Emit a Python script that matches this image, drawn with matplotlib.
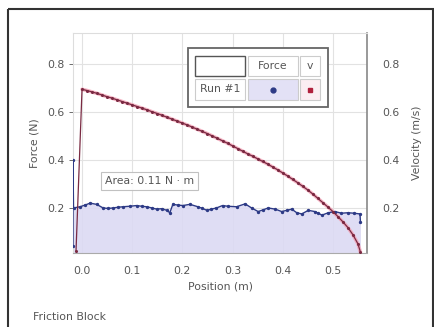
import matplotlib
matplotlib.use("Agg")
import matplotlib.pyplot as plt
from matplotlib.patches import Rectangle

# ---- data ----
force_x = [-0.018, -0.018, -0.017, -0.004, 0.006, 0.016, 0.029, 0.042, 0.052, 0.062, 0.072,
           0.082, 0.095, 0.109, 0.119, 0.129, 0.139, 0.149, 0.159, 0.169, 0.175, 0.181,
           0.191, 0.201, 0.215, 0.231, 0.24, 0.249, 0.258, 0.268, 0.28, 0.291, 0.308,
           0.325, 0.338, 0.351, 0.361, 0.371, 0.385, 0.398, 0.408, 0.418, 0.428, 0.438,
           0.451, 0.464, 0.471, 0.478, 0.491, 0.504, 0.517, 0.530, 0.542, 0.554, 0.555]
force_y = [0.04, 0.40, 0.20, 0.205, 0.212, 0.22, 0.215, 0.20, 0.198, 0.20, 0.203,
           0.205, 0.207, 0.21, 0.207, 0.205, 0.2, 0.195, 0.197, 0.19, 0.18, 0.215,
           0.212, 0.21, 0.215, 0.205, 0.198, 0.19, 0.195, 0.20, 0.21, 0.207, 0.205,
           0.217, 0.2, 0.185, 0.192, 0.20, 0.195, 0.185, 0.19, 0.195, 0.18, 0.175,
           0.19, 0.185, 0.178, 0.17, 0.18, 0.185, 0.178, 0.18, 0.178, 0.175, 0.14]

vel_x = [-0.012, 0.0, 0.01, 0.02, 0.03, 0.04, 0.05, 0.06, 0.07, 0.08, 0.09, 0.10,
         0.11, 0.12, 0.13, 0.14, 0.15, 0.16, 0.17, 0.18, 0.19, 0.20, 0.21, 0.22,
         0.23, 0.24, 0.25, 0.26, 0.27, 0.28, 0.29, 0.30, 0.31, 0.32, 0.33, 0.34,
         0.35, 0.36, 0.37, 0.38, 0.39, 0.40, 0.41, 0.42, 0.43, 0.44, 0.45, 0.46,
         0.47, 0.48, 0.49, 0.50, 0.51, 0.52, 0.53, 0.54, 0.55, 0.555]
vel_y = [0.02, 0.695, 0.690, 0.684, 0.678, 0.671, 0.664, 0.658, 0.651, 0.644, 0.637, 0.630,
         0.623, 0.616, 0.609, 0.601, 0.594, 0.586, 0.578, 0.570, 0.562, 0.554, 0.546, 0.537,
         0.528, 0.519, 0.510, 0.500, 0.490, 0.480, 0.470, 0.459, 0.448, 0.437, 0.426, 0.416,
         0.405, 0.394, 0.383, 0.371, 0.359, 0.346, 0.333, 0.319, 0.305, 0.290, 0.275, 0.258,
         0.240, 0.222, 0.204, 0.185, 0.164, 0.142, 0.118, 0.088, 0.050, 0.015]

x_ticks = [0.0, 0.1, 0.2, 0.3, 0.4, 0.5]
y_ticks = [0.2, 0.4, 0.6, 0.8]
area_text = "Area: 0.11 N · m"
title_text = "Friction Block"

W, H = 435, 327
fig = plt.figure(figsize=(W / 100, H / 100), dpi=100)
fig.patch.set_facecolor("white")

TXT = "#555555"
FS = 7.8
ax = fig.add_axes([73 / W, 1 - 253 / H, (367 - 73) / W, (253 - 33) / H])
ax.set_xlim(-0.018, 0.568)
ax.set_ylim(0.012, 0.93)
ax.set_xticks(x_ticks)
ax.set_yticks(y_ticks)
ax.set_xticklabels([f"{v:.1f}" for v in x_ticks])
ax.set_yticklabels([f"{v:.1f}" for v in y_ticks])
ax.grid(True, color="#e2e2e2", lw=0.8)
ax.set_axisbelow(True)
ax.tick_params(axis="both", labelsize=FS, colors=TXT, length=3, width=0.6, pad=3)
ax.tick_params(axis="x", length=0, pad=9)
for s in ["top", "left"]:
    ax.spines[s].set_color("#dddddd")
ax.spines["bottom"].set_color("#aaaaaa")
ax.spines["right"].set_color("#888888")
ax.spines["right"].set_linewidth(1.2)
ax.set_xlabel("Position (m)", fontsize=FS, color=TXT, labelpad=4)
ax.set_ylabel("Force (N)", fontsize=FS, color=TXT, labelpad=6)

# force fill and line
ax.fill_between(force_x, 0, force_y, color="#dcdaf3", alpha=0.9, lw=0, zorder=1)
ax.plot(force_x, force_y, color="#2d3a86", lw=1.0, marker="o", ms=1.4, zorder=3)

# velocity (halo + core)
ax.plot(vel_x[1:], vel_y[1:], color="#f2a0b4", lw=2.6, alpha=0.8, zorder=2,
        solid_capstyle="round")
ax.plot(vel_x, vel_y, color="#7a2a42", lw=0.9, marker="o", ms=1.2, zorder=4)

ax2 = ax.twinx()
ax2.set_ylim(ax.get_ylim())
ax2.set_yticks(y_ticks)
ax2.set_yticklabels([f"{v:.1f}" for v in y_ticks])
ax2.tick_params(axis="y", labelsize=FS, colors=TXT, length=0, pad=11)
for s in ax2.spines.values():
    s.set_visible(False)
ax2.set_ylabel("Velocity (m/s)", fontsize=FS, color=TXT, labelpad=9)

# overlay in pixel coords for frame, legend table, annotation, footer
ov = fig.add_axes([0, 0, 1, 1])
ov.set_xlim(0, W)
ov.set_ylim(H, 0)
ov.axis("off")
ov.patch.set_alpha(0)
ov.add_patch(Rectangle((8, 9), 425, 340, fill=False, ec="#333333", lw=1.5, clip_on=False))

# legend table
ov.add_patch(Rectangle((188, 48), 140, 59, fc="white", ec="#666666", lw=1.3))
ov.add_patch(Rectangle((195, 56), 50, 20, fc="white", ec="#555555", lw=1.0))
ov.add_patch(Rectangle((248, 56), 50, 20, fc="white", ec="#cccccc", lw=0.8))
ov.add_patch(Rectangle((300, 56), 20, 20, fc="white", ec="#cccccc", lw=0.8))
ov.add_patch(Rectangle((195, 79), 50, 21, fc="white", ec="#cccccc", lw=0.8))
ov.add_patch(Rectangle((248, 79), 50, 21, fc="#e3e1f6", ec="#cccccc", lw=0.8))
ov.add_patch(Rectangle((300, 79), 20, 21, fc="#fbeef2", ec="#cccccc", lw=0.8))
ov.text(273, 66, "Force", fontsize=FS, color=TXT, ha="center", va="center")
ov.text(310, 66, "v", fontsize=FS, color=TXT, ha="center", va="center")
ov.text(220, 89.5, "Run #1", fontsize=FS, color=TXT, ha="center", va="center")
ov.plot([273], [89.5], marker="o", ms=3.5, color="#2d3a86")
ov.plot([310], [89.5], marker="s", ms=3.5, color="#b0203c")

# area annotation
ov.text(105, 181, area_text, fontsize=FS, color=TXT, ha="left", va="center",
        bbox=dict(boxstyle="square,pad=0.35", fc="white", ec="#bbbbbb", lw=0.8, alpha=0.9))

ov.text(33, 317, title_text, fontsize=FS, color=TXT, ha="left", va="center")

fig.savefig("out.png", dpi=100, facecolor="white")
